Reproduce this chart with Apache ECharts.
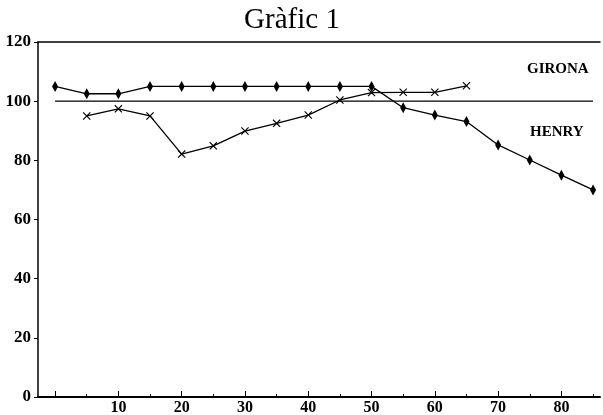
<!DOCTYPE html>
<html><head><meta charset="utf-8">
<script src="https://cdn.jsdelivr.net/npm/echarts@6/dist/echarts.min.js"></script>
<style>html,body{margin:0;padding:0;background:#fff}#c{width:603px;height:415px}</style>
</head><body><div id="c"></div>
<script>
var girona_x = [0,5,10,15,20,25,30,35,40,45,50,55,60,65,70,75,80,85];
var girona_y = [105,102.5,102.5,105,105,105,105,105,105,105,105,97.8,95.3,93.1,85.2,80.1,75,70];
var henry_x = [5,10,15,20,25,30,35,40,45,50,55,60,65];
var henry_y = [95,97.4,95,82.1,84.9,89.9,92.5,95.3,100.4,102.9,103,103,105.2];
var ref_x = [0,85];
var ref_y = [100,100];
var xLabels = [10,20,30,40,50,60,70,80];
var majorTicks = [0,10,20,30,40,50,60,70,80];
var minorTicks = [5,15,25,35,45,55,65,75,85];
var yTicks = [0,20,40,60,80,100,120];

function pairs(xs, ys){ return xs.map(function(x,i){return [x, ys[i]];}); }
var serif = '"Liberation Serif","DejaVu Serif",serif';
var crossPath = 'path://M0,1L1,0L5,4L9,0L10,1L6,5L10,9L9,10L5,6L1,10L0,9L4,5Z';

var chart = echarts.init(document.getElementById('c'));
chart.setOption({
  animation:false,
  backgroundColor:'#fff',
  title:{text:'Gràfic 1', left:287, top:1, textAlign:'center',
    textStyle:{fontFamily:serif, fontSize:29, fontWeight:'normal', color:'#000'}},
  grid:{left:38, right:3, top:42, bottom:18, outerBoundsMode:'none', containLabel:false},
  xAxis:[
    {type:'value', min:-2.7, max:86.1, position:'bottom',
     axisLine:{show:true, onZero:false, lineStyle:{color:'#000', width:2}},
     axisTick:{show:true, inside:true, length:6, customValues:majorTicks, lineStyle:{color:'#000', width:1}},
     axisLabel:{show:true, customValues:xLabels, margin:3, fontFamily:serif, fontSize:16, fontWeight:'bold', color:'#000'},
     splitLine:{show:false}},
    {type:'value', min:-2.7, max:86.1, position:'bottom',
     axisLine:{show:false, onZero:false},
     axisTick:{show:true, inside:true, length:3, customValues:minorTicks, lineStyle:{color:'#000', width:1}},
     axisLabel:{show:false}, splitLine:{show:false}},
    {type:'value', min:-2.7, max:86.1, position:'top',
     axisLine:{show:true, onZero:false, lineStyle:{color:'#000', width:1.5}},
     axisTick:{show:false}, axisLabel:{show:false}, splitLine:{show:false}}
  ],
  yAxis:{type:'value', min:0, max:120, interval:20, position:'left',
    axisLine:{show:true, onZero:false, lineStyle:{color:'#000', width:1.5}},
    axisTick:{show:true, length:4, lineStyle:{color:'#000'}},
    axisLabel:{margin:7, fontFamily:serif, fontSize:17, fontWeight:'bold', color:'#000',
      customValues:yTicks},
    splitLine:{show:false}},
  series:[
    {name:'ref', type:'line', data:pairs(ref_x, ref_y), symbol:'none',
     lineStyle:{color:'#000', width:1.3}},
    {name:'GIRONA', type:'line', data:pairs(girona_x, girona_y), symbol:'diamond', symbolSize:[6,11],
     itemStyle:{color:'#000'}, lineStyle:{color:'#000', width:1.3}},
    {name:'HENRY', type:'line', data:pairs(henry_x, henry_y), symbol:crossPath, symbolSize:8,
     itemStyle:{color:'#000'}, lineStyle:{color:'#000', width:1.3}}
  ],
  graphic:[
    {type:'text', left:527, top:62, style:{text:'GIRONA', font:'bold 15px '+serif, fill:'#000'}},
    {type:'text', left:530, top:125, style:{text:'HENRY', font:'bold 15px '+serif, fill:'#000'}}
  ]
});
</script></body></html>
